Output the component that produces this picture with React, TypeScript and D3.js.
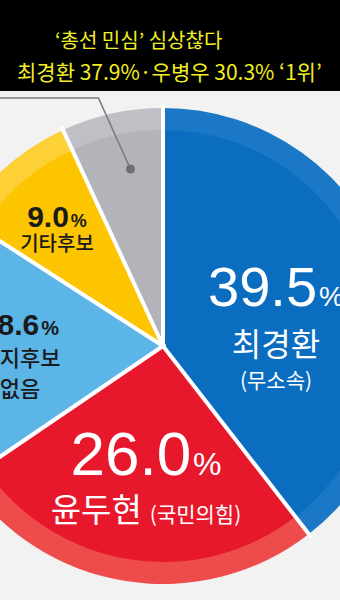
import React from "react";
import * as d3 from "d3";

const titleLines = ["‘총선 민심’ 심상찮다", "최경환 37.9%·우병우 30.3% ‘1위’"];
const categories = ["최경환", "윤두현", "지지후보 없음", "기타후보", "모름·무응답"];
const values = [39.5, 26.0, 18.6, 9.0, 6.9];
const parties = ["(무소속)", "(국민의힘)", "", "", ""];
const mainColors = ["#0b6dbf", "#e8182c", "#5cb5e7", "#fdc500", "#b3b3ba"];
const bandColors = ["#1a78c6", "#ee4b4b", "#6cbdea", "#fdd035", "#bfbfc5"];

const W = 340;
const H = 600;
const cx = 163;
const cy = 346;
const R = 238;
const Rin = 216;

const NUM_FONT = "'Liberation Sans', Arial, 'Noto Sans CJK KR', sans-serif";
const KR_FONT = "'Noto Sans CJK KR', 'Noto Sans', sans-serif";

// label layout (positions, not data)
const labelLayout: Record<string, any> = {
  "최경환": { x: 276, y: 306, num: 56, pct: 28, name: 32, nameDy: 50, party: 21, partyDy: 32, fill: "#ffffff", numW: 400, nameW: 400 },
  "윤두현": { x: 146, y: 475, num: 62, pct: 32, name: 33, nameDy: 47, party: 21, fill: "#ffffff", inline: true, numW: 400, nameW: 400 },
  "지지후보 없음": { x: 20, y: 335, num: 30, pct: 20, name: 22, nameDy: 31, fill: "#1a1a1a", split: true, numW: 700, nameW: 500 },
  "기타후보": { x: 57, y: 227, num: 30, pct: 18, name: 20, nameDy: 24, fill: "#1a1a1a", numW: 700, nameW: 500 },
};

export default function App() {
  const data = categories.map((c, i) => ({ name: c, value: values[i], party: parties[i], i }));
  const pie = d3.pie<any>().sort(null).value((d) => d.value).startAngle(0).endAngle(2 * Math.PI);
  const arcs = pie(data);
  const outerArc = d3.arc<any>().innerRadius(0).outerRadius(R);
  const innerArc = d3.arc<any>().innerRadius(0).outerRadius(Rin);

  const grayArc = arcs[4];
  const mid = (grayArc.startAngle + grayArc.endAngle) / 2 + 0.035;
  const [dxp, dyp] = d3.pointRadial(mid, 180);
  const dot = [cx + dxp, cy + dyp];
  const elbowY = 98;
  const elbowX = dot[0] - 32;

  return (
    <svg width={W} height={H} style={{ position: "fixed", left: 0, top: 0, background: "#f2f2f2" }}>
      <rect x={0} y={0} width={W} height={H} fill="#f2f2f2" />
      <g transform={`translate(${cx},${cy})`}>
        {arcs.map((a, i) => (
          <path key={"o" + i} d={outerArc(a) as string} fill={bandColors[i]} />
        ))}
        {arcs.map((a, i) => (
          <path key={"i" + i} d={innerArc(a) as string} fill={mainColors[i]} />
        ))}
        {arcs.map((a, i) => {
          const [x, y] = d3.pointRadial(a.startAngle, R + 4);
          return <line key={"s" + i} x1={0} y1={0} x2={x} y2={y} stroke="#ffffff" strokeWidth={4} />;
        })}
        <circle r={3} fill="#ffffff" />
      </g>
      <polyline
        points={`0,${elbowY} ${elbowX},${elbowY} ${dot[0]},${dot[1]}`}
        fill="none"
        stroke="#7a7a82"
        strokeWidth={1.6}
      />
      <circle cx={dot[0]} cy={dot[1]} r={4.5} fill="#6f6f79" />
      {data.map((d) => {
        const L = labelLayout[d.name];
        if (!L) return null;
        const numStr = d.value.toFixed(1);
        return (
          <g key={"l" + d.name} fill={L.fill} textAnchor="middle">
            <text x={L.x} y={L.y} fontFamily={NUM_FONT} fontWeight={L.numW}>
              <tspan fontSize={L.num}>{numStr}</tspan>
              <tspan fontSize={L.pct} dx={2}>%</tspan>
            </text>
            {L.split ? (
              d.name.split(" ").map((part: string, k: number) => (
                <text key={k} x={L.x} y={L.y + L.nameDy * (k + 1)} fontFamily={KR_FONT} fontSize={L.name} fontWeight={L.nameW}>
                  {part}
                </text>
              ))
            ) : L.inline ? (
              <text x={L.x} y={L.y + L.nameDy} fontFamily={KR_FONT}>
                <tspan fontSize={L.name} fontWeight={L.nameW}>{d.name}</tspan>
                <tspan fontSize={L.party} dx={8}>{d.party}</tspan>
              </text>
            ) : (
              <>
                <text x={L.x} y={L.y + L.nameDy} fontFamily={KR_FONT} fontSize={L.name} fontWeight={L.nameW}>
                  {d.name}
                </text>
                {d.party && L.party ? (
                  <text x={L.x} y={L.y + L.nameDy + L.partyDy} fontFamily={KR_FONT} fontSize={L.party}>
                    {d.party}
                  </text>
                ) : null}
              </>
            )}
          </g>
        );
      })}
      <rect x={0} y={0} width={W} height={91} fill="#000000" />
      <text x={55} y={48} fill="#f2ee22" fontFamily={KR_FONT} fontSize={20} fontWeight={400}>
        {titleLines[0]}
      </text>
      <text x={17} y={80} fill="#f2ee22" fontFamily={KR_FONT} fontSize={21} fontWeight={400}>
        {titleLines[1]}
      </text>
    </svg>
  );
}
